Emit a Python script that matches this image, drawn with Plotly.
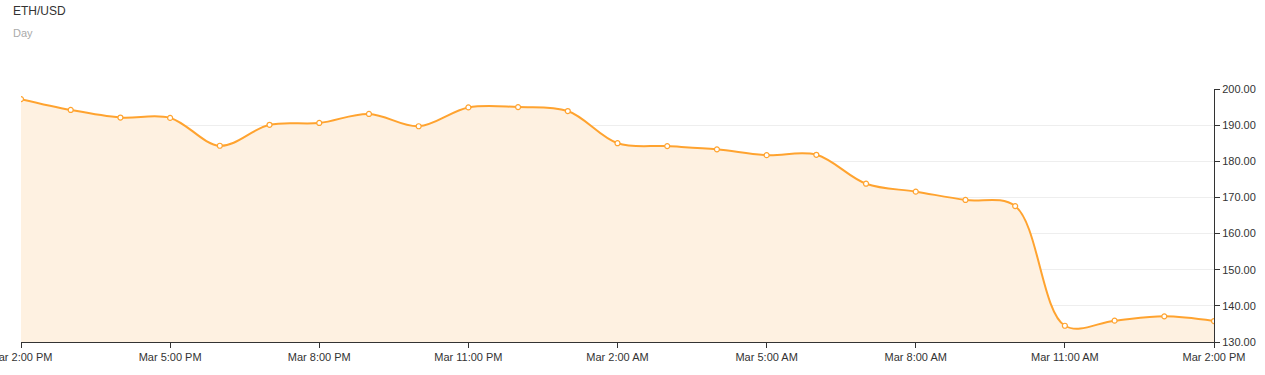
import plotly.graph_objects as go
import pandas as pd

title_text = "ETH/USD"
subtitle_text = "Day"

times = pd.date_range("2020-03-11 14:00", "2020-03-12 14:00", freq="h")
prices = [197.2, 194.2, 192.1, 192.0, 184.3, 190.1, 190.6, 193.1, 189.7,
          194.9, 195.0, 193.9, 185.0, 184.2, 183.3, 181.7, 181.8, 173.8,
          171.6, 169.3, 167.6, 134.5, 135.9, 137.1, 135.8]

tick_times = pd.date_range("2020-03-11 14:00", "2020-03-12 14:00", freq="3h")
y_ticks = [130, 140, 150, 160, 170, 180, 190, 200]

line_color = "#FFA32F"
fill_color = "#FEF1E1"
axis_color = "#333333"

fig = go.Figure()
fig.add_trace(go.Scatter(
    x=times, y=prices, mode="lines+markers",
    line=dict(color=line_color, width=2, shape="spline", smoothing=1),
    marker=dict(size=5, color="white", line=dict(color=line_color, width=1.2)),
    fill="tozeroy", fillcolor=fill_color, showlegend=False,
))

fig.update_layout(
    width=1265, height=375,
    margin=dict(l=21, r=51, t=89, b=33, autoexpand=False),
    paper_bgcolor="white", plot_bgcolor="white",
    font=dict(family="Liberation Sans, Arial, sans-serif", size=11, color="#333333"),
    annotations=[
        dict(text=title_text, xref="paper", yref="paper",
             x=-10/1193, y=(342-11)/253, xanchor="left", yanchor="middle",
             showarrow=False, font=dict(size=12, color="#333333")),
        dict(text=subtitle_text, xref="paper", yref="paper",
             x=-10/1193, y=(342-33)/253, xanchor="left", yanchor="middle",
             showarrow=False, font=dict(size=11, color="#AAAAAA")),
    ],
)
fig.update_xaxes(
    range=[times[0], times[-1]], tickvals=list(tick_times),
    tickformat="%b %-I:%M %p", showgrid=False, zeroline=False,
    showline=True, linecolor=axis_color, linewidth=1,
    ticks="outside", ticklen=5, tickcolor=axis_color,
    ticklabeloverflow="allow", automargin=False,
)
fig.update_yaxes(
    side="right", range=[130, 200], tickvals=y_ticks, tickformat=".2f",
    showgrid=True, gridcolor="#EEEEEE", gridwidth=1, zeroline=False,
    showline=True, linecolor=axis_color, linewidth=1,
    ticks="outside", ticklen=5, tickcolor=axis_color, automargin=False,
)

fig.write_html("out.html", config={"displayModeBar": False},
               post_script="document.body.style.margin='0';")
